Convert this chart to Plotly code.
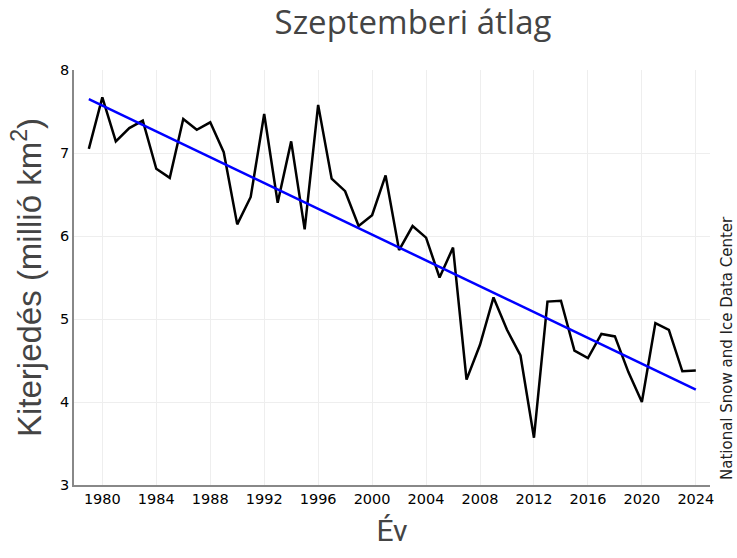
import plotly.graph_objects as go

years = list(range(1979, 2025))
extent = [7.05, 7.67, 7.14, 7.30, 7.39, 6.81, 6.70, 7.41, 7.28, 7.37,
          7.01, 6.14, 6.47, 7.47, 6.40, 7.14, 6.08, 7.58, 6.69, 6.54,
          6.12, 6.25, 6.73, 5.83, 6.12, 5.98, 5.50, 5.86, 4.27, 4.69,
          5.26, 4.87, 4.56, 3.57, 5.21, 5.22, 4.62, 4.53, 4.82, 4.79,
          4.36, 4.00, 4.95, 4.87, 4.37, 4.38]
trend_years = [1979, 2024]
trend_values = [7.65, 4.15]

x_ticks = list(range(1980, 2025, 4))
y_ticks = [3, 4, 5, 6, 7, 8]

W, H = 737, 558

fig = go.Figure()
fig.add_trace(go.Scatter(x=years, y=extent, mode="lines",
                         line=dict(color="black", width=2.5), showlegend=False))
fig.add_trace(go.Scatter(x=trend_years, y=trend_values, mode="lines",
                         line=dict(color="#0000ff", width=2.5), showlegend=False))

fig.update_layout(
    width=W, height=H,
    margin=dict(l=74, r=27, t=70, b=73, autoexpand=False),
    plot_bgcolor="white", paper_bgcolor="white",
    title=dict(text="Szeptemberi átlag", x=413 / W, xanchor="center", xref="container",
               y=1 - 22 / H, yanchor="middle", yref="container",
               font=dict(family="Open Sans, sans-serif", size=33, color="#444")),
    xaxis=dict(range=[1977.9, 2025.05], tickvals=x_ticks, ticktext=[str(t) for t in x_ticks],
               showgrid=True, gridcolor="#eeeeee", gridwidth=1, automargin=False,
               showline=True, linecolor="#888", linewidth=1.5, zeroline=False,
               ticks="", tickfont=dict(family="DejaVu Sans", size=14.5, color="black"),
               title=dict(text="Év", font=dict(family="Liberation Sans Narrow, Roboto, sans-serif", size=30, color="#444"),
                          standoff=14)),
    yaxis=dict(range=[3, 8], tickvals=y_ticks,
               showgrid=True, gridcolor="#eeeeee", gridwidth=1, automargin=False,
               showline=True, linecolor="#888", linewidth=1.5, zeroline=False,
               ticks="", tickfont=dict(family="DejaVu Sans", size=14.5, color="black"),
               title=dict(text="Kiterjedés (millió km<sup>2</sup>)",
                          font=dict(family="Liberation Sans, Arial, sans-serif", size=33, color="#444"),
                          standoff=9)),
)
fig.add_annotation(text="National Snow and Ice Data Center", xref="paper", yref="paper",
                   x=(727 - 74) / 636, y=(485 - 348) / 415, xanchor="center", yanchor="middle",
                   textangle=-90, showarrow=False,
                   font=dict(family="DejaVu Sans, sans-serif", size=15, color="#222"))

fig.write_html("out.html", config={"displayModeBar": False},
               post_script="document.body.style.margin='0px';")
